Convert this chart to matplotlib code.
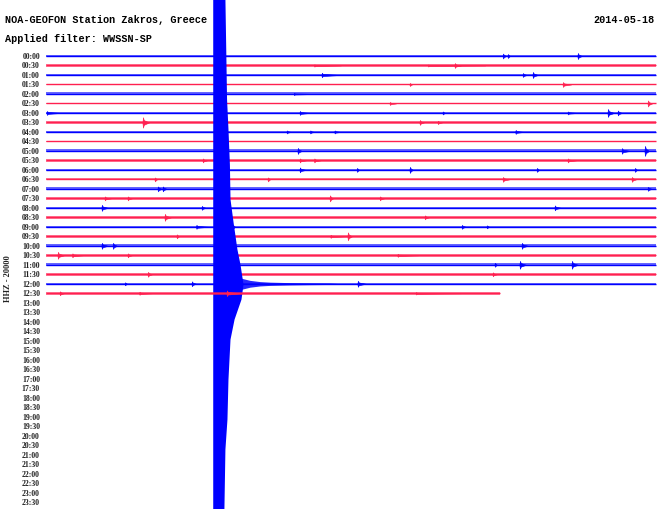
import matplotlib

matplotlib.use("Agg")
import matplotlib.pyplot as plt
import numpy as np

BLUE = "#0000ff"
RED = "#ff2050"

# helicorder rows: 30 minutes per row, 48 rows per day
row_labels = [f"{h:02d}:{m:02d}" for h in range(24) for m in (0, 30)]
n_filled = 26          # rows with data (00:00 .. 12:30)
data_end = 22.33       # minutes into the last (12:30) row

# background noise half-amplitude per row, in row-spacing units
row_noise = [0.074, 0.158, 0.084, 0.074, 0.158, 0.074, 0.095, 0.147, 0.095, 0.074,
             0.158, 0.116, 0.095, 0.116, 0.158, 0.126, 0.116, 0.158, 0.126, 0.126,
             0.147, 0.137, 0.158, 0.158, 0.105, 0.137]

# small local events: row, minute, half-amplitude (row units), duration (minutes)
ev_row = [0, 0, 0, 1, 1, 1, 2, 2, 2, 3, 3, 4, 5, 5,
          6, 6, 6, 6, 6, 6, 7, 7, 7, 8, 8, 8, 8,
          10, 10, 10, 11, 11, 11, 11, 12, 12, 12, 12, 12,
          13, 13, 13, 13, 14, 14, 14, 15, 15, 15, 15,
          16, 16, 16, 17, 17, 18, 18, 18, 18, 19, 19, 19,
          20, 20, 20, 21, 21, 21, 21, 22, 22, 22, 23, 23,
          24, 24, 24, 25, 25, 25, 25]
ev_min = [22.48, 22.72, 26.16, 13.2, 18.8, 20.11, 13.57, 23.46, 23.95, 17.9, 25.43, 12.2, 16.92, 29.61,
          0.05, 12.49, 19.52, 25.67, 27.64, 28.13, 4.77, 18.39, 19.28, 11.85, 13.0, 14.2, 23.1,
          12.39, 28.33, 29.46, 7.72, 12.49, 13.2, 25.67, 12.49, 15.30, 17.90, 24.15, 28.97,
          5.36, 10.92, 22.48, 28.82, 5.51, 5.75, 29.61, 2.90, 4.03, 13.97, 16.43,
          2.75, 7.67, 25.03, 5.85, 18.64, 7.4, 9.20, 20.46, 21.69, 6.44, 14.0, 14.85,
          2.75, 3.30, 23.41, 0.59, 1.3, 4.03, 17.3, 22.08, 23.31, 25.87, 5.02, 21.98,
          3.89, 7.18, 15.34, 0.69, 4.6, 18.2, 8.9]
ev_amp = [0.26, 0.21, 0.32, 0.12, 0.11, 0.26, 0.24, 0.21, 0.32, 0.16, 0.26, 0.12, 0.16, 0.32,
          0.21, 0.21, 0.16, 0.16, 0.42, 0.26, 0.55, 0.26, 0.18, 0.16, 0.16, 0.16, 0.21,
          0.32, 0.30, 0.53, 0.21, 0.21, 0.21, 0.21, 0.26, 0.21, 0.32, 0.21, 0.21,
          0.21, 0.21, 0.26, 0.26, 0.26, 0.26, 0.21, 0.21, 0.21, 0.32, 0.21,
          0.32, 0.21, 0.26, 0.37, 0.21, 0.21, 0.21, 0.21, 0.16, 0.21, 0.16, 0.42,
          0.32, 0.32, 0.32, 0.37, 0.21, 0.21, 0.16, 0.21, 0.42, 0.42, 0.26, 0.21,
          0.16, 0.26, 0.32, 0.21, 0.16, 0.13, 0.30]
ev_dur = [0.15, 0.10, 0.20, 1.3, 2.8, 0.3, 0.9, 0.2, 0.25, 0.1, 0.4, 1.2, 0.3, 0.2,
          0.7, 0.5, 0.1, 0.5, 0.3, 0.2, 0.3, 0.2, 0.2, 0.2, 0.2, 0.3, 0.4,
          0.2, 0.4, 0.2, 0.2, 0.3, 0.3, 0.4, 0.3, 0.1, 0.15, 0.1, 0.1,
          0.1, 0.1, 0.3, 0.2, 0.2, 0.2, 0.2, 0.3, 0.2, 0.15, 0.2,
          0.3, 0.2, 0.3, 0.3, 0.2, 0.6, 0.1, 0.2, 0.1, 0.1, 0.8, 0.2,
          0.3, 0.2, 0.3, 0.3, 0.5, 0.2, 1.0, 0.1, 0.3, 0.3, 0.2, 0.2,
          0.1, 0.2, 0.4, 0.2, 0.6, 2.2, 0.7]

# main earthquake: clipped trace column (row position -> right edge in minutes)
col_left = 8.20
col_rows = [-6.0, 4.53, 7.69, 11.38, 15.07, 17.49, 20.34, 21.92, 24.03, 25.61,
            27.71, 29.82, 34.04, 38.25, 41.41, 47.73]
col_right = [8.80, 8.88, 8.95, 9.02, 9.05, 9.20, 9.39, 9.54, 9.69, 9.59,
             9.25, 9.05, 8.95, 8.90, 8.80, 8.75]
# coda on the 12:00 row: minute -> half-amplitude (row units)
coda_row = 24
coda_min = [8.9, 9.54, 10.03, 10.52, 11.02, 12.0, 12.98, 13.97, 14.6]
coda_amp = [1.20, 0.62, 0.36, 0.23, 0.17, 0.12, 0.09, 0.07, 0.0]

fig = plt.figure(figsize=(6.6, 5.1), dpi=100)
ax = fig.add_axes([0, 0, 1, 1])
ax.set_xlim(-2.262, 30.197)
ax.set_ylim(47.73, -6.006)
ax.axis("off")

ev_row_a = np.array(ev_row)
for r in range(n_filled):
    color = BLUE if r % 2 == 0 else RED
    z = 2 + r * 0.01
    if r == 25:
        z = 3.0
    end = data_end if r == n_filled - 1 else 30.0
    nz = row_noise[r]
    ax.fill_between([0, end], [r - nz] * 2, [r + nz] * 2, color=color, alpha=0.6, lw=0, zorder=z)
    ax.plot([0, end], [r, r], color=color, lw=1.0, zorder=z, solid_capstyle="butt")
    for i in np.where(ev_row_a == r)[0]:
        m, a, d = ev_min[i], ev_amp[i], ev_dur[i]
        xs = [m - 0.03, m, m + 0.04, m + max(d, 0.08)]
        env = np.array([0.0, a, 0.45 * a, 0.0])
        ax.fill_between(xs, r - env, r + env, color=color, lw=0.4, edgecolor=color, zorder=z)
    if r == coda_row:
        ca = np.array(coda_amp)
        ax.fill_between(coda_min, r - ca, r + ca, color=BLUE, alpha=0.85, lw=0, zorder=z)
        ax.fill_betweenx(col_rows, col_left, col_right, color=BLUE, lw=0, zorder=z)

for r, lab in enumerate(row_labels):
    ax.text(-0.30, r, lab, ha="right", va="center", fontsize=5.6,
            family="Liberation Serif", fontweight="bold", color="#222222")

fig.text(5 / 660, 1 - 22.7 / 510, "NOA-GEOFON Station Zakros, Greece", ha="left",
         va="baseline", fontsize=7.3, family="Liberation Mono", fontweight="bold")
fig.text(5 / 660, 1 - 42.3 / 510, "Applied filter: WWSSN-SP", ha="left",
         va="baseline", fontsize=7.3, family="Liberation Mono", fontweight="bold")
fig.text(655 / 660, 1 - 22.7 / 510, "2014-05-18", ha="right",
         va="baseline", fontsize=7.3, family="Liberation Mono", fontweight="bold")
fig.text(8.5 / 660, 1 - 279 / 510, "HHZ - 20000", ha="center", va="center", rotation=90,
         fontsize=6.0, family="Liberation Serif", fontweight="bold", color="#222222")

fig.savefig("out.png", dpi=100)
